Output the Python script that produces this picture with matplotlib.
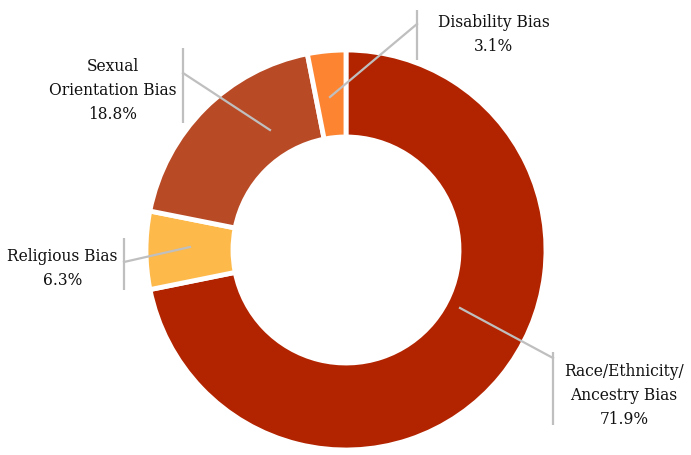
import matplotlib
matplotlib.use("Agg")
import matplotlib.pyplot as plt

categories = ["Race/Ethnicity/\nAncestry Bias", "Religious Bias", "Sexual\nOrientation Bias", "Disability Bias"]
values = [71.9, 6.3, 18.8, 3.1]
colors = ["#B22400", "#FDB94A", "#B84A26", "#FD8532"]

W, H = 691, 455
fig = plt.figure(figsize=(W / 100, H / 100), dpi=100)
ax = fig.add_axes([0, 0, 1, 1])
ax.set_xlim(0, W)
ax.set_ylim(0, H)
ax.set_aspect("equal")
ax.axis("off")

cx, cy, R = 346, H - 250, 200
wedges, _ = ax.pie(values, colors=colors, startangle=90, counterclock=False,
                   center=(cx, cy), radius=R,
                   wedgeprops=dict(width=R * 0.435, edgecolor="white", linewidth=3.5))
ax.set_xlim(0, W)
ax.set_ylim(0, H)

gray = "#BFBFBF"
font = dict(family="DejaVu Serif", fontsize=11.2, color="#111111", ha="center", va="top", linespacing=1.52)

def py(y):
    return H - y

callouts = [
    dict(text=f"{categories[0]}\n{values[0]}%", tx=624, ty=363, bx=553, by=(352, 425), p0=(460, 308), p1=(553, 358)),
    dict(text=f"{categories[1]}\n{values[1]}%", tx=62.5, ty=248, bx=124, by=(238, 290), p0=(190, 247), p1=(124, 262)),
    dict(text=f"{categories[2]}\n{values[2]}%", tx=112.5, ty=58, bx=183, by=(48, 123), p0=(270, 130), p1=(183, 73)),
    dict(text=f"{categories[3]}\n{values[3]}%", tx=494, ty=14, bx=417, by=(10, 60), p0=(330, 97), p1=(417, 24)),
]
for c in callouts:
    ax.plot([c["bx"], c["bx"]], [py(c["by"][0]), py(c["by"][1])], color=gray, lw=1.6, solid_capstyle="butt")
    ax.plot([c["p0"][0], c["p1"][0]], [py(c["p0"][1]), py(c["p1"][1])], color=gray, lw=1.6)
    ax.text(c["tx"], py(c["ty"]), c["text"], **font)

fig.savefig("out.png", dpi=100)
